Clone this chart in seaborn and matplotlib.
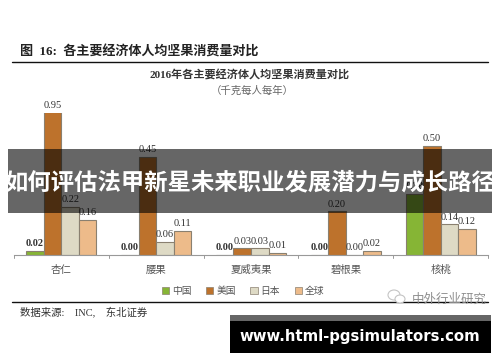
# coding:utf-8
# 各主要经济体人均坚果消费量对比 + 横幅遮罩
import pandas as pd
import matplotlib
matplotlib.use('Agg')
import matplotlib.pyplot as plt
from matplotlib.patches import Rectangle, Ellipse
import seaborn as sns

W, H = 500, 362

categories = ['杏仁', '腰果', '夏威夷果', '碧根果', '核桃']
china = [0.02, 0.00, 0.00, 0.00, 0.28]
usa = [0.95, 0.45, 0.03, 0.20, 0.50]
japan = [0.22, 0.06, 0.03, 0.00, 0.14]
world = [0.16, 0.11, 0.01, 0.02, 0.12]
series_names = ['中国', '美国', '日本', '全球']
colors = ['#86B535', '#BD722C', '#DEDAC5', '#EDBB8A']

sns.set_theme(style='white')
SERIF = ['Liberation Serif', 'Noto Sans CJK SC', 'DejaVu Sans']
plt.rcParams['font.family'] = ['Noto Sans CJK SC', 'DejaVu Sans']

df = pd.DataFrame({'cat': categories, '中国': china, '美国': usa, '日本': japan, '全球': world})
long_df = df.melt(id_vars='cat', var_name='series', value_name='value')


def px_rect(x0, y0, x1, y1):
    # 像素坐标转figure比例
    return [x0 / W, 1 - y1 / H, (x1 - x0) / W, (y1 - y0) / H]


fig = plt.figure(figsize=(W / 100, H / 100), dpi=100, facecolor='white')
ax = fig.add_axes(px_rect(14, 113, 488, 255))

sns.barplot(data=long_df, x='cat', y='value', hue='series', order=categories,
            hue_order=series_names, palette=colors, saturation=1, width=0.74,
            edgecolor='#8a8070', linewidth=0.8, legend=False, ax=ax)

# 纵轴被截断，杏仁的美国柱子顶到上边
YMAX = 0.65
ax.set_ylim(0, YMAX)
ax.set_xlim(-0.5, 4.5)
ax.set_xlabel('')
ax.set_ylabel('')
ax.set_yticks([])
for s in ['top', 'left', 'right']:
    ax.spines[s].set_visible(False)
ax.spines['bottom'].set_color('#999999')
ax.spines['bottom'].set_linewidth(0.8)
ax.set_xticks(range(5))
ax.set_xticklabels(categories, fontsize=7.5, color='#555555')
ax.tick_params(axis='x', length=0, pad=7)
for t in range(6):
    ax.plot([t - 0.5] * 2, [0, -0.012], color='#999999', lw=0.7, clip_on=False)

# 数值标签
for i, cont in enumerate(ax.containers):
    vals = long_df[long_df['series'] == series_names[i]]['value'].values
    for bar, v in zip(cont, vals):
        ax.annotate('{:.2f}'.format(v), (bar.get_x() + bar.get_width() / 2, min(v, YMAX)),
                    xytext=(0, 2), textcoords='offset points', ha='center', va='bottom',
                    fontsize=7.5, color='#333333', family=SERIF,
                    fontweight='bold' if i == 0 else 'normal', annotation_clip=False)

# 图例
handles = [Rectangle((0, 0), 1, 1, facecolor=c, edgecolor='#8a8070', linewidth=0.5) for c in colors]
fig.legend(handles, series_names, loc='center', bbox_to_anchor=(243 / W, 1 - 291 / H), ncol=4,
           frameon=False, fontsize=7, handlelength=0.75, handleheight=0.75, handletextpad=0.3,
           columnspacing=1.5, labelcolor='#555555', borderpad=0, borderaxespad=0)

# 标题
fig.text(20 / W, 1 - 52 / H, '图  16:  各主要经济体人均坚果消费量对比', fontsize=9.4, fontweight='bold',
         color='#222222', va='center', family=SERIF)
fig.text(250 / W, 1 - 75 / H, '2016年各主要经济体人均坚果消费量对比', fontsize=8, fontweight='bold',
         color='#333333', ha='center', va='center', family=SERIF)
fig.text(252 / W, 1 - 91 / H, '（千克每人每年）', fontsize=7.5, color='#666666', ha='center', va='center')
fig.text(20 / W, 1 - 312 / H, '数据来源:    INC,    东北证券', fontsize=7.5, color='#333333', va='center', family=SERIF)

# 上下横线
for yy in (61.5, 302):
    fig.add_artist(plt.Line2D([12 / W, 488 / W], [1 - yy / H] * 2, color='#111111', lw=1))

# 水印
fig.text(412 / W, 1 - 299 / H, '中外行业研究', fontsize=9, color='#8f8f8f', va='center', zorder=4)
for (cx, cy, ew, eh) in [(394, 295, 12, 10), (400, 299, 10, 8)]:
    fig.add_artist(Ellipse((cx / W, 1 - cy / H), ew / W, eh / H, transform=fig.transFigure,
                           facecolor='white', edgecolor='#c4c4c4', linewidth=0.8, zorder=4))

# 横幅
fig.add_artist(Rectangle((8 / W, 1 - 213 / H), 484 / W, 64 / H, transform=fig.transFigure,
                         facecolor='black', alpha=0.6, edgecolor='none', zorder=5))
fig.text(249.5 / W, 1 - 182 / H, '如何评估法甲新星未来职业发展潜力与成长路径', fontsize=16.8, fontweight='bold',
         color='white', ha='center', va='center', zorder=6)

fig.add_artist(Rectangle((230 / W, 1 - 353 / H), 261 / W, 38 / H, transform=fig.transFigure,
                         facecolor='black', edgecolor='none', zorder=5))
fig.add_artist(Rectangle((230 / W, 1 - 321 / H), 261 / W, 6 / H, transform=fig.transFigure,
                         facecolor='#666666', edgecolor='none', zorder=6))
fig.text(360 / W, 1 - 337 / H, 'www.html-pgsimulators.com', fontsize=10.7, fontweight='bold',
         color='white', ha='center', va='center', zorder=6, family='DejaVu Sans')

fig.savefig('out.png', dpi=100)
plt.close(fig)
